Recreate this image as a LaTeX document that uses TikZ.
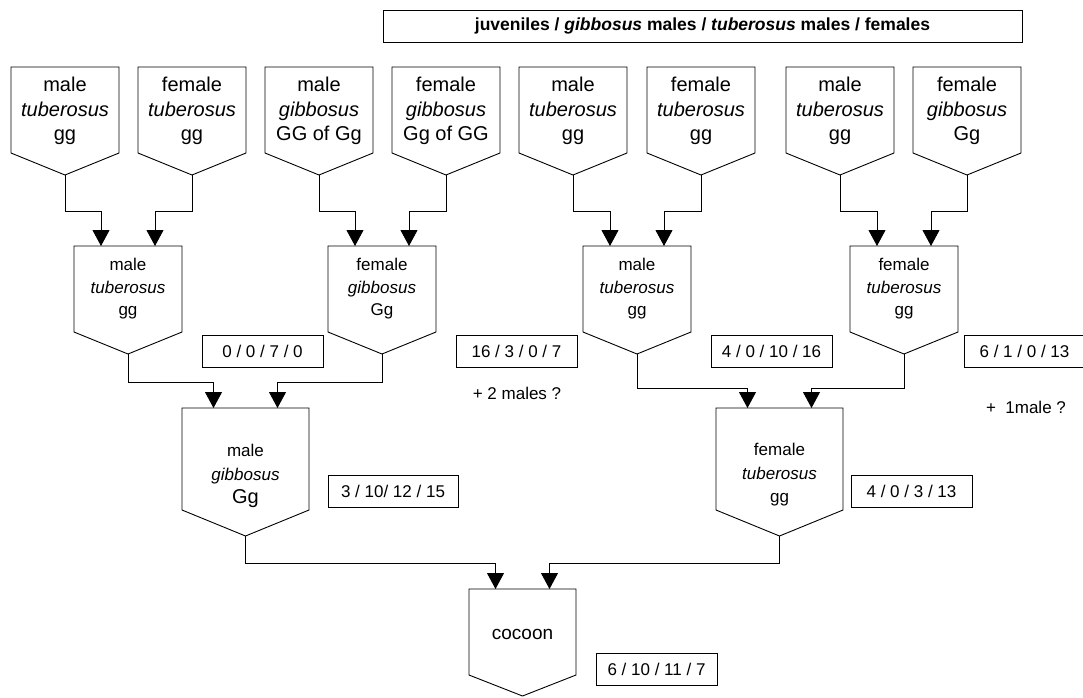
\documentclass[tikz,border=0pt]{standalone}
\usepackage{fontspec}
\setmainfont{Liberation Sans}
\usetikzlibrary{arrows.meta}
\tikzset{
  shapeline/.style={draw=black, line width=0.9pt, line join=miter},
  conn/.style={draw=black, line width=0.9pt, -{Triangle[length=16pt,width=17pt]}},
  toptxt/.style={align=center, font=\fontsize{20}{24.5}\selectfont, inner sep=0pt},
  midtxt/.style={align=center, font=\fontsize{17}{22.5}\selectfont, inner sep=0pt},
  lowtxt/.style={align=center, font=\fontsize{17}{23.5}\selectfont, inner sep=0pt},
  counts/.style={draw=black, line width=0.9pt, minimum width=121pt, minimum height=32pt, inner sep=0pt, font=\fontsize{17}{20}\selectfont},
  note/.style={font=\fontsize{17}{20}\selectfont, inner sep=0pt},
  header/.style={draw=black, line width=0.9pt, minimum width=639pt, minimum height=32pt, inner sep=0pt, font=\bfseries\fontsize{17.5}{20}\selectfont},
}
% name, cx, top, half width, rect height, tip depth, arrow offset
\newcommand{\pentbox}[7]{%
  \draw[shapeline] ({#2-#4},#3) -- ({#2+#4},#3) -- ({#2+#4},{#3+#5}) -- (#2,{#3+#5+#6}) -- ({#2-#4},{#3+#5}) -- cycle;
  \coordinate (#1-tip) at (#2,{#3+#5+#6});
  \coordinate (#1-L) at ({#2-#7},#3);
  \coordinate (#1-R) at ({#2+#7},#3);
}
\begin{document}
\begin{tikzpicture}[x=1pt,y=-1pt]
\useasboundingbox (0,0) rectangle (1083,697);
\clip (0,0) rectangle (1083,697);
\fill[white] (0,0) rectangle (1083,697);

% header
\node[header] (hdr) at (702.5,26) {juveniles / \textit{gibbosus} males / \textit{tuberosus} males / females};

% top row
\pentbox{a1}{65}{67}{54}{86}{22}{27}
\pentbox{a2}{192}{67}{54}{86}{22}{27}
\pentbox{a3}{319}{67}{54}{86}{22}{27}
\pentbox{a4}{446}{67}{54}{86}{22}{27}
\pentbox{a5}{573}{67}{54}{86}{22}{27}
\pentbox{a6}{701}{67}{54}{86}{22}{27}
\pentbox{a7}{840}{67}{54}{86}{22}{27}
\pentbox{a8}{967}{67}{54}{86}{22}{27}
\node[toptxt] (ta1) at (65,111) {male\\\textit{tuberosus}\\gg};
\node[toptxt] (ta2) at (192,111) {female\\\textit{tuberosus}\\gg};
\node[toptxt] (ta3) at (319,111) {male\\\textit{gibbosus}\\GG of Gg};
\node[toptxt] (ta4) at (446,111) {female\\\textit{gibbosus}\\Gg of GG};
\node[toptxt] (ta5) at (573,111) {male\\\textit{tuberosus}\\gg};
\node[toptxt] (ta6) at (701,111) {female\\\textit{tuberosus}\\gg};
\node[toptxt] (ta7) at (840,111) {male\\\textit{tuberosus}\\gg};
\node[toptxt] (ta8) at (967,111) {female\\\textit{gibbosus}\\Gg};

% second row
\pentbox{b1}{128}{246}{54}{86}{22}{27}
\pentbox{b2}{382}{246}{54}{86}{22}{27}
\pentbox{b3}{637}{246}{54}{86}{22}{27}
\pentbox{b4}{904}{246}{54}{86}{22}{27}
\node[midtxt] (tb1) at (128,289) {male\\\textit{tuberosus}\\gg};
\node[midtxt] (tb2) at (382,289) {female\\\textit{gibbosus}\\Gg};
\node[midtxt] (tb3) at (637,289) {male\\\textit{tuberosus}\\gg};
\node[midtxt] (tb4) at (904,289) {female\\\textit{tuberosus}\\gg};

% third row
\pentbox{c1}{245.5}{408}{63.5}{102}{26}{32}
\pentbox{c2}{779.5}{408}{63.5}{102}{26}{32}
\node[lowtxt] (tc1) at (245.5,476) {male\\\textit{gibbosus}\\{\fontsize{20}{23.5}\selectfont Gg}};
\node[lowtxt] (tc2) at (779.5,475) {female\\\textit{tuberosus}\\gg};

% cocoon
\pentbox{d1}{522.5}{589}{53.5}{86}{21}{27}
\node[font=\fontsize{19}{22}\selectfont, inner sep=0pt] (td1) at (522.5,634) {cocoon};

% connectors top -> second
\draw[conn] (a1-tip) -- ++(0,36) -| (b1-L);
\draw[conn] (a2-tip) -- ++(0,36) -| (b1-R);
\draw[conn] (a3-tip) -- ++(0,36) -| (b2-L);
\draw[conn] (a4-tip) -- ++(0,36) -| (b2-R);
\draw[conn] (a5-tip) -- ++(0,36) -| (b3-L);
\draw[conn] (a6-tip) -- ++(0,36) -| (b3-R);
\draw[conn] (a7-tip) -- ++(0,36) -| (b4-L);
\draw[conn] (a8-tip) -- ++(0,36) -| (b4-R);
% second -> third
\draw[conn] (b1-tip) -- ++(0,28) -| (c1-L);
\draw[conn] (b2-tip) -- ++(0,28) -| (c1-R);
\draw[conn] (b3-tip) -- ++(0,34) -| (c2-L);
\draw[conn] (b4-tip) -- ++(0,34) -| (c2-R);
% third -> cocoon
\draw[conn] (c1-tip) -- ++(0,27) -| (d1-L);
\draw[conn] (c2-tip) -- ++(0,27) -| (d1-R);

% counts
\node[counts] (k1) at (262.5,351) {0 / 0 / 7 / 0};
\node[counts] (k2) at (516.5,351) {16 / 3 / 0 / 7};
\node[counts] (k3) at (771.5,351) {4 / 0 / 10 / 16};
\node[counts] (k4) at (1024.5,351) {6 / 1 / 0 / 13};
\node[counts, minimum width=130pt] (k5) at (393,491) {3 / 10/ 12 / 15};
\node[counts] (k6) at (911.5,491) {4 / 0 / 3 / 13};
\node[counts] (k7) at (656.5,669) {6 / 10 / 11 / 7};

\node[note] (n1) at (517,393) {+ 2 males ?};
\node[note] (n2) at (1026,407) {+\hspace{0.55em}1male ?};
\end{tikzpicture}
\end{document}
